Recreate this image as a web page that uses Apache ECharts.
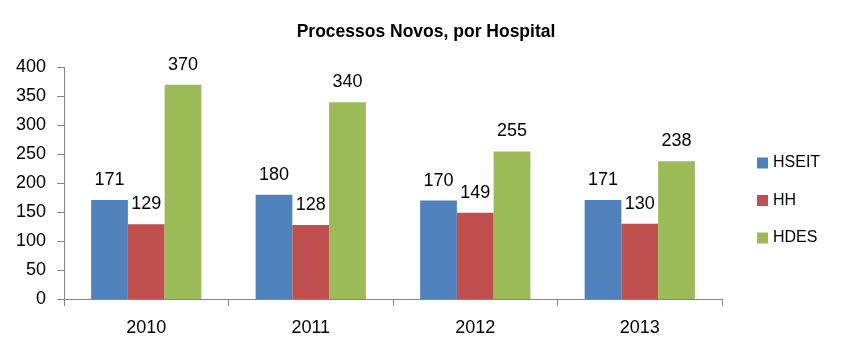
<!DOCTYPE html>
<html><head><meta charset="utf-8">
<script src="https://cdn.jsdelivr.net/npm/echarts@6/dist/echarts.min.js"></script>
<style>html,body{margin:0;padding:0;background:#fff}#c{width:842px;height:353px}</style>
</head><body><div id="c"></div>
<script>
const categories = ['2010', '2011', '2012', '2013'];
const seriesNames = ['HSEIT', 'HH', 'HDES'];
const hseit = [171, 180, 170, 171];
const hh = [129, 128, 149, 130];
const hdes = [370, 340, 255, 238];
const yTicks = [0, 50, 100, 150, 200, 250, 300, 350, 400];
const colors = ['#4F81BD', '#C0504D', '#9BBB59'];

const font = 'Liberation Sans, Arial, sans-serif';
const chart = echarts.init(document.getElementById('c'));
const values = [hseit, hh, hdes];
chart.setOption({
  animation: false,
  title: {
    text: 'Processos Novos, por Hospital',
    left: 421, top: 18, textAlign: 'center',
    textStyle: { fontFamily: font, fontSize: 17.5, fontWeight: 'bold', color: '#000' }
  },
  legend: {
    orient: 'vertical', left: 752, top: 150,
    itemWidth: 11, itemHeight: 11, itemGap: 21.5, icon: 'rect',
    textStyle: { fontFamily: font, fontSize: 16, color: '#000' },
    data: seriesNames
  },
  grid: { left: 64, right: 120, top: 67.5, bottom: 54, containLabel: false },
  xAxis: {
    type: 'category', data: categories,
    axisLine: { lineStyle: { color: '#868686', width: 1 } },
    axisTick: { show: true, length: 7, lineStyle: { color: '#868686' } },
    axisLabel: { fontFamily: font, fontSize: 18, color: '#000', margin: 20 }
  },
  yAxis: {
    type: 'value', min: yTicks[0], max: yTicks[yTicks.length - 1], interval: 50,
    splitLine: { show: false },
    axisLine: { show: true, lineStyle: { color: '#868686', width: 1 } },
    axisTick: { show: true, length: 7, lineStyle: { color: '#868686' } },
    axisLabel: { fontFamily: font, fontSize: 18, color: '#000', margin: 18 }
  },
  series: seriesNames.map((n, i) => ({
    name: n, type: 'bar', data: values[i],
    barGap: '0%', barCategoryGap: '33%',
    itemStyle: { color: colors[i] },
    label: { show: true, position: 'top', distance: 11, fontFamily: font, fontSize: 18, color: '#000' }
  }))
});
</script></body></html>
